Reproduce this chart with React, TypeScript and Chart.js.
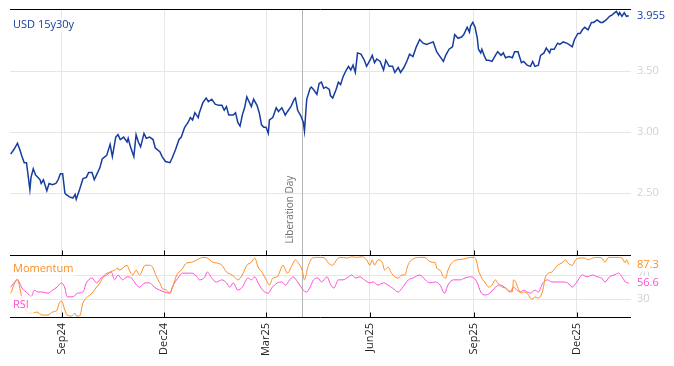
import React, { useEffect, useRef } from 'react';
import { Chart, registerables } from 'chart.js';

Chart.register(...registerables);

// ---- data ----
const START_DATE = '2024-07-18'; // day 0 of the x axis
const X_MIN_DAY = -0.6;
const X_MAX_DAY = 549;

const usdLabel = 'USD 15y30y';
const usdDays = [
  0, 3, 6, 8, 10, 12, 14, 17, 18, 20,
  22, 24, 26, 27, 29, 32, 34, 37, 40, 42,
  44, 46, 48, 49, 52, 55, 57, 58, 61, 64,
  67, 69, 72, 74, 76, 79, 81, 85, 88, 90,
  93, 95, 97, 100, 103, 104, 106, 109, 111, 113,
  115, 118, 120, 123, 126, 128, 132, 134, 137, 141,
  143, 146, 149, 151, 154, 157, 159, 161, 163, 166,
  167, 170, 173, 175, 178, 181, 184, 187, 189, 191,
  193, 197, 199, 201, 203, 205, 207, 209, 211, 213,
  215, 218, 220, 222, 224, 226, 228, 229, 232, 235,
  237, 240, 243, 245, 248, 251, 252, 254, 257, 259,
  260, 262, 265, 266, 268, 271, 273, 275, 277, 279,
  282, 283, 285, 288, 290, 292, 294, 297, 299, 301,
  303, 305, 307, 310, 313, 315, 318, 320, 322, 324,
  327, 330, 332, 335, 338, 340, 343, 345, 348, 351,
  353, 356, 359, 362, 365, 368, 371, 374, 377, 380,
  383, 385, 388, 391, 393, 396, 399, 401, 404, 406,
  407, 409, 411, 413, 414, 416, 417, 419, 421, 423,
  426, 429, 431, 434, 436, 438, 441, 444, 446, 449,
  452, 454, 457, 460, 462, 464, 467, 469, 472, 474,
  477, 478, 481, 484, 486, 489, 492, 494, 497, 499,
  502, 504, 506, 508, 511, 514, 516, 519, 522, 524,
  527, 530, 532, 536, 538, 539, 541, 543, 545, 547,
];
const usdValues = [
  2.82, 2.86, 2.91, 2.86, 2.80, 2.75, 2.75, 2.53, 2.63, 2.70,
  2.65, 2.63, 2.61, 2.58, 2.61, 2.52, 2.58, 2.57, 2.58, 2.61,
  2.66, 2.66, 2.50, 2.49, 2.47, 2.46, 2.49, 2.45, 2.53, 2.62,
  2.63, 2.67, 2.67, 2.61, 2.65, 2.71, 2.78, 2.81, 2.90, 2.80,
  2.96, 2.98, 2.94, 2.96, 2.92, 2.95, 2.88, 2.80, 2.98, 2.92,
  2.88, 2.99, 2.95, 2.96, 2.94, 2.87, 2.84, 2.80, 2.76, 2.75,
  2.79, 2.86, 2.94, 2.96, 3.04, 3.08, 3.12, 3.10, 3.16, 3.12,
  3.16, 3.24, 3.28, 3.25, 3.27, 3.23, 3.22, 3.22, 3.18, 3.21,
  3.14, 3.14, 3.16, 3.08, 3.05, 3.14, 3.20, 3.29, 3.25, 3.21,
  3.27, 3.22, 3.16, 3.06, 3.04, 3.04, 2.99, 3.10, 3.12, 3.20,
  3.17, 3.20, 3.14, 3.17, 3.21, 3.27, 3.28, 3.18, 3.13, 3.08,
  3.01, 3.27, 3.36, 3.37, 3.35, 3.31, 3.40, 3.41, 3.36, 3.37,
  3.35, 3.30, 3.28, 3.35, 3.41, 3.39, 3.45, 3.51, 3.54, 3.51,
  3.55, 3.49, 3.65, 3.64, 3.59, 3.54, 3.59, 3.63, 3.57, 3.60,
  3.58, 3.51, 3.59, 3.54, 3.54, 3.49, 3.53, 3.49, 3.53, 3.59,
  3.64, 3.62, 3.70, 3.76, 3.73, 3.72, 3.73, 3.74, 3.66, 3.62,
  3.58, 3.63, 3.68, 3.70, 3.80, 3.77, 3.78, 3.80, 3.86, 3.82,
  3.87, 3.90, 3.86, 3.77, 3.68, 3.65, 3.68, 3.63, 3.59, 3.59,
  3.58, 3.63, 3.66, 3.63, 3.65, 3.61, 3.62, 3.61, 3.66, 3.66,
  3.57, 3.58, 3.55, 3.54, 3.58, 3.54, 3.55, 3.63, 3.65, 3.69,
  3.65, 3.68, 3.68, 3.73, 3.72, 3.74, 3.73, 3.72, 3.70, 3.76,
  3.81, 3.81, 3.84, 3.86, 3.84, 3.90, 3.90, 3.92, 3.90, 3.90,
  3.92, 3.95, 3.96, 3.99, 3.96, 3.98, 3.95, 3.98, 3.95, 3.955,
];

const momentumLabel = 'Momentum';
const momentumDays = [
  0, 6, 9, 11, 17, 19, 23, 28, 33, 37,
  41, 43, 45, 48, 50, 54, 57, 58, 61, 64,
  68, 72, 76, 79, 83, 88, 92, 95, 96, 103,
  105, 108, 111, 114, 119, 123, 126, 129, 132, 134,
  138, 141, 143, 147, 151, 156, 160, 165, 170, 174,
  179, 182, 187, 191, 196, 198, 201, 205, 209, 213,
  216, 219, 223, 227, 229, 232, 236, 238, 241, 245,
  249, 252, 254, 258, 260, 263, 267, 271, 275, 278,
  281, 285, 287, 291, 298, 302, 306, 311, 315, 318,
  320, 322, 325, 329, 331, 334, 337, 340, 343, 346,
  349, 351, 353, 358, 362, 367, 369, 373, 376, 377,
  380, 383, 385, 387, 391, 395, 400, 404, 407, 410,
  412, 414, 417, 420, 423, 426, 429, 431, 435, 438,
  440, 444, 445, 447, 449, 452, 454, 457, 460, 462,
  464, 467, 471, 473, 476, 479, 484, 488, 491, 493,
  497, 500, 504, 508, 511, 515, 520, 523, 526, 529,
  533, 538, 541, 544, 545, 547,
];
const momentumValues = [
  40, 63, 40, 24, 7, 7, 9, 4, 4, 9,
  12, 24, 27, 12, 4, 2.5, 7, 2.5, 2.5, 24,
  34, 40, 50, 57, 70, 75, 78, 81.5, 78, 86,
  78, 70, 78, 70, 86, 86, 81.5, 67, 57, 48.5,
  45, 40, 48.5, 70, 78, 90, 91, 95, 99, 98,
  91, 90, 86, 75, 70, 67, 62, 70, 86, 91,
  98, 83, 73, 58.5, 53.5, 65, 67, 75, 86, 73,
  86, 95, 91, 78, 62, 83, 98, 99, 99, 98,
  90, 86, 91, 99, 98, 100, 99, 100, 95, 86,
  95, 86, 95, 90, 78, 83, 73, 67, 65, 70,
  70, 83, 91, 98, 99, 99, 95, 91, 90, 81.5,
  78, 67, 65, 78, 91, 95, 96, 98, 99, 99,
  95, 78, 65, 57, 50, 53.5, 62, 57, 50, 48.5,
  45, 42, 62, 58.5, 48.5, 40, 42, 40, 32, 30.5,
  34, 32, 45, 65, 73, 75, 86, 90, 95, 90,
  86, 95, 98, 98, 95, 98, 99, 98, 91, 99,
  99, 99, 98, 90, 95, 87.3,
];

const rsiLabel = 'RSI';
const rsiDays = [
  0, 6, 10, 15, 18, 21, 24, 28, 33, 37,
  41, 45, 48, 50, 55, 59, 64, 67, 72, 76,
  80, 85, 89, 92, 95, 99, 103, 107, 110, 114,
  119, 123, 127, 132, 136, 141, 143, 148, 152, 157,
  160, 165, 167, 172, 174, 178, 182, 187, 191, 194,
  197, 201, 205, 210, 213, 216, 219, 223, 228, 231,
  236, 240, 243, 247, 250, 254, 259, 262, 265, 268,
  272, 275, 280, 283, 286, 290, 294, 299, 302, 305,
  309, 313, 318, 321, 325, 330, 334, 338, 343, 347,
  352, 356, 362, 367, 371, 376, 380, 384, 387, 392,
  398, 402, 407, 410, 413, 416, 420, 424, 429, 433,
  438, 442, 445, 448, 451, 454, 457, 460, 464, 467,
  471, 475, 479, 484, 488, 493, 497, 501, 506, 510,
  515, 519, 523, 526, 530, 534, 538, 541, 544, 547,
];
const rsiValues = [
  50, 62, 48.5, 40, 34, 45, 42, 42, 40, 45,
  50, 57, 48.5, 34, 34, 40, 42, 57, 65, 57,
  65, 70, 75, 62, 70, 62, 67, 65, 57, 50,
  57, 57, 50, 45, 42, 40, 50, 65, 73, 73,
  73, 67, 62, 67, 75, 65, 58.5, 62, 57, 50,
  57, 45, 50, 65, 62, 67, 57, 45, 40, 48.5,
  57, 58.5, 53.5, 62, 67, 58.5, 45, 42, 50, 62,
  65, 58.5, 67, 55, 48.5, 62, 62, 67, 70, 65,
  67, 62, 57, 58.5, 53.5, 57, 53.5, 48.5, 42, 50,
  62, 65, 70, 62, 57, 58.5, 53.5, 40, 53.5, 62,
  62, 65, 67, 65, 57, 42, 37, 40, 50, 53.5,
  48.5, 42, 50, 45, 42, 45, 42, 40, 45, 42,
  57, 62, 58.5, 58.5, 58.5, 57, 50, 58.5, 70, 67,
  70, 67, 65, 58.5, 67, 70, 73, 67, 58.5, 56.6,
];

const tickDates = ['2024-09-01', '2024-12-01', '2025-03-01', '2025-06-01', '2025-09-01', '2025-12-01'];
const tickLabels = ['Sep24', 'Dec24', 'Mar25', 'Jun25', 'Sep25', 'Dec25'];
const usdTicks = [2.5, 3.0, 3.5];
const oscTicks = [30, 70];
const eventDate = '2025-04-02';
const eventLabel = 'Liberation Day';

// ---- styles ----
const FONT = '"Open Sans", "DejaVu Sans", sans-serif';
const BLUE = '#163c9f';
const ORANGE = '#ff8c1f';
const PINK = '#ff4fd6';
const GRID = '#e6e6e6';
const TICK_GREY = '#d2d2d2';

function dayOf(iso: string): number {
  const [y, m, d] = iso.split('-').map(Number);
  const [y0, m0, d0] = START_DATE.split('-').map(Number);
  return Math.round((Date.UTC(y, m - 1, d) - Date.UTC(y0, m0 - 1, d0)) / 86400000);
}
const tickDays = tickDates.map(dayOf);

function pts(days: number[], vals: number[]) {
  return days.map((d, i) => ({ x: d, y: vals[i] }));
}

function drawTag(ctx: CanvasRenderingContext2D, text: string, x: number, y: number, color: string, bg: string, pad: number) {
  ctx.font = `11px ${FONT}`;
  const w = ctx.measureText(text).width;
  ctx.fillStyle = bg;
  ctx.fillRect(x - pad, y - 6.5 - pad / 2, w + pad * 2, 13 + pad);
  ctx.fillStyle = color;
  ctx.textAlign = 'left';
  ctx.textBaseline = 'middle';
  ctx.fillText(text, x, y);
}

const overlayPlugin = {
  id: 'overlay',
  beforeDatasetsDraw(chart: any) {
    const { ctx, chartArea, scales } = chart;
    const x = Math.round(scales.x.getPixelForValue(dayOf(eventDate))) + 0.5;
    ctx.save();
    ctx.strokeStyle = '#b5b5b5';
    ctx.lineWidth = 1;
    ctx.beginPath();
    ctx.moveTo(x, chartArea.top);
    ctx.lineTo(x, chartArea.bottom);
    ctx.stroke();
    ctx.translate(x - 9.5, scales.y.bottom - 12);
    ctx.rotate(-Math.PI / 2);
    ctx.font = `10px ${FONT}`;
    ctx.fillStyle = '#707070';
    ctx.textAlign = 'left';
    ctx.textBaseline = 'alphabetic';
    ctx.fillText(eventLabel, 0, 0);
    ctx.restore();
  },
  afterDraw(chart: any) {
    const { ctx, chartArea, scales } = chart;
    const { left, right, top, bottom } = chartArea;
    const mid = Math.floor(scales.y.bottom) + 0.5;
    const yTop = Math.floor(top) + 0.5;
    const yBot = Math.floor(bottom) + 0.5;
    ctx.save();
    // panel borders
    ctx.strokeStyle = '#000';
    ctx.lineWidth = 1;
    ctx.beginPath();
    [yTop, mid, yBot].forEach((yy) => {
      ctx.moveTo(left, yy);
      ctx.lineTo(right, yy);
    });
    // x tick marks pointing inward
    tickDays.forEach((d) => {
      const xx = Math.round(scales.x.getPixelForValue(d)) + 0.5;
      ctx.moveTo(xx, mid - 5);
      ctx.lineTo(xx, mid);
      ctx.moveTo(xx, yBot - 5);
      ctx.lineTo(xx, yBot);
    });
    ctx.stroke();

    // panel titles
    drawTag(ctx, usdLabel, left + 3, top + 16, BLUE, 'rgba(255,255,255,0.75)', 2);
    drawTag(ctx, momentumLabel, left + 3, scales.y.bottom + 13, ORANGE, 'rgba(255,255,255,0.75)', 2);
    drawTag(ctx, rsiLabel, left + 3, bottom - 12, PINK, 'rgba(255,255,255,0.75)', 5);

    // last value tags
    const lx = right + 6;
    drawTag(ctx, usdValues[usdValues.length - 1].toFixed(3), lx, scales.y.getPixelForValue(usdValues[usdValues.length - 1]), BLUE, '#fff', 1);
    drawTag(ctx, momentumValues[momentumValues.length - 1].toFixed(1), lx, scales.y2.getPixelForValue(momentumValues[momentumValues.length - 1]), ORANGE, '#fff', 1);
    drawTag(ctx, rsiValues[rsiValues.length - 1].toFixed(1), lx, scales.y2.getPixelForValue(rsiValues[rsiValues.length - 1]), PINK, '#fff', 1);
    ctx.restore();
  },
};

export default function App() {
  const ref = useRef<HTMLCanvasElement>(null);
  useEffect(() => {
    if (!ref.current) return;
    const chart = new Chart(ref.current, {
      type: 'line',
      data: {
        datasets: [
          {
            label: usdLabel,
            data: pts(usdDays, usdValues),
            yAxisID: 'y',
            borderColor: BLUE,
            borderWidth: 1.5,
            pointRadius: 0,
            tension: 0,
          },
          {
            label: momentumLabel,
            data: pts(momentumDays, momentumValues),
            yAxisID: 'y2',
            borderColor: ORANGE,
            borderWidth: 1,
            pointRadius: 0,
            cubicInterpolationMode: 'monotone',
          },
          {
            label: rsiLabel,
            data: pts(rsiDays, rsiValues),
            yAxisID: 'y2',
            borderColor: PINK,
            borderWidth: 1,
            pointRadius: 0,
            cubicInterpolationMode: 'monotone',
          },
        ],
      } as any,
      options: {
        responsive: false,
        animation: false,
        layout: { padding: { left: 10, top: 9, right: 0, bottom: 0 } },
        plugins: { legend: { display: false }, tooltip: { enabled: false } },
        scales: {
          x: {
            type: 'linear',
            min: X_MIN_DAY,
            max: X_MAX_DAY,
            border: { display: false },
            grid: { color: GRID, drawTicks: false },
            afterBuildTicks: (s: any) => {
              s.ticks = tickDays.map((v) => ({ value: v }));
            },
            afterFit: (s: any) => {
              s.height = 49;
              s.paddingLeft = 0;
              s.paddingRight = 0;
            },
            ticks: {
              autoSkip: false,
              minRotation: 90,
              maxRotation: 90,
              padding: 6,
              color: '#222',
              font: { family: FONT, size: 11 },
              callback: (v: any) => {
                const i = tickDays.indexOf(Number(v));
                return i >= 0 ? tickLabels[i] : '';
              },
            },
          },
          y: {
            type: 'linear',
            position: 'right',
            stack: 'panels',
            stackWeight: 4,
            offset: false,
            min: 1.99,
            max: 4.01,
            border: { display: false },
            grid: { color: GRID, drawTicks: false },
            afterBuildTicks: (s: any) => {
              s.ticks = usdTicks.map((v) => ({ value: v }));
            },
            afterFit: (s: any) => {
              s.width = 43;
              s.paddingTop = 0;
              s.paddingBottom = 0;
            },
            ticks: {
              padding: 6,
              color: TICK_GREY,
              font: { family: FONT, size: 11 },
              callback: (v: any) => Number(v).toFixed(2),
            },
          },
          y2: {
            type: 'linear',
            position: 'right',
            stack: 'panels',
            stackWeight: 1,
            offset: false,
            min: 0.8,
            max: 102.3,
            border: { display: false },
            grid: { color: GRID, drawTicks: false },
            afterBuildTicks: (s: any) => {
              s.ticks = oscTicks.map((v) => ({ value: v }));
            },
            afterFit: (s: any) => {
              s.width = 43;
              s.paddingTop = 0;
              s.paddingBottom = 0;
            },
            ticks: {
              padding: 6,
              color: TICK_GREY,
              font: { family: FONT, size: 11 },
              callback: (v: any) => String(v),
            },
          },
        },
      } as any,
      plugins: [overlayPlugin],
    });
    return () => chart.destroy();
  }, []);

  return (
    <div style={{ position: 'absolute', left: 0, top: 0, width: 674, height: 366, background: '#fff' }}>
      <canvas ref={ref} width={674} height={366} style={{ display: 'block' }} />
    </div>
  );
}
